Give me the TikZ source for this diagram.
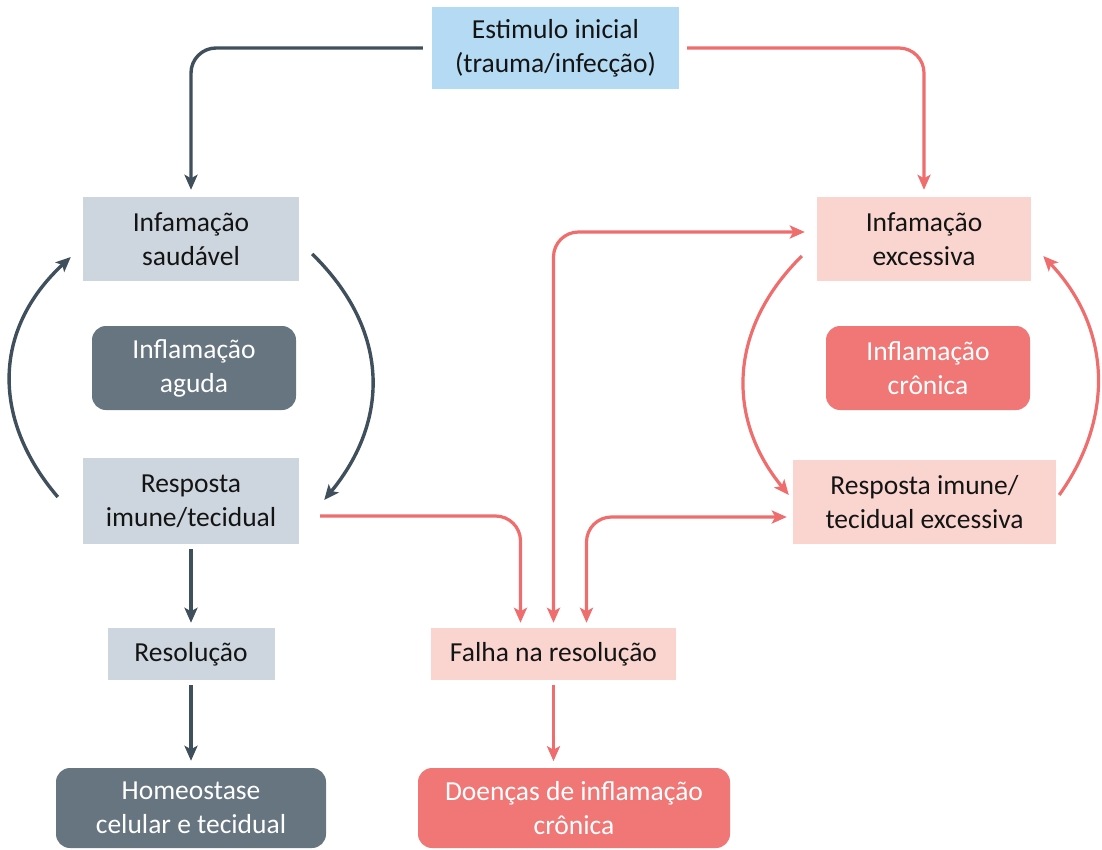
\documentclass[tikz,border=0pt]{standalone}
\usepackage{fontspec}
\setmainfont{Carlito}
\usetikzlibrary{arrows.meta}
\definecolor{dkline}{HTML}{3F4F5B}
\definecolor{rdline}{HTML}{EF6D6D}
\definecolor{blueF}{HTML}{B5DAF3}
\definecolor{greyF}{HTML}{CDD6DE}
\definecolor{pinkF}{HTML}{FAD5D0}
\definecolor{slateF}{HTML}{66757F}
\definecolor{coralF}{HTML}{F07775}
\definecolor{txt}{HTML}{141414}
\begin{document}
\begin{tikzpicture}[x=1pt,y=-1pt,
  box/.style={inner sep=0pt, align=center, font=\fontsize{27.5}{34}\selectfont, text=txt},
  bluebox/.style={box, fill=blueF},
  greybox/.style={box, fill=greyF},
  pinkbox/.style={box, fill=pinkF},
  slatebox/.style={box, fill=slateF, rounded corners=14pt, text=white},
  coralbox/.style={box, fill=coralF, rounded corners=14pt, text=white},
  dkarrow/.style={draw=dkline, line width=3.4pt, -{Stealth[length=15pt,width=13pt,inset=3.5pt]}, rounded corners=25pt},
  rdarrow/.style={draw=rdline, line width=3.2pt, -{Stealth[length=15pt,width=13pt,inset=3.5pt]}, rounded corners=25pt},
  rdboth/.style={draw=rdline, line width=3.2pt, {Stealth[length=15pt,width=13pt,inset=3.5pt]}-{Stealth[length=15pt,width=13pt,inset=3.5pt]}, rounded corners=25pt}
]
\useasboundingbox (0,0) rectangle (1102,850);

% nodes
\node[bluebox, minimum width=247pt, minimum height=82pt] (est) at (555.5,48) {Estimulo inicial\\(trauma/infecção)};
\node[greybox, minimum width=216pt, minimum height=84pt] (sau) at (191,239) {Infamação\\saudável};
\node[slatebox, minimum width=204pt, minimum height=84pt] (agu) at (194,368) {Inflamação\\aguda};
\node[greybox, minimum width=216pt, minimum height=86pt] (rsp) at (191,501) {Resposta\\imune/tecidual};
\node[greybox, minimum width=167pt, minimum height=52pt] (res) at (191,654) {Resolução};
\node[slatebox, minimum width=270pt, minimum height=80pt] (hom) at (191,808) {Homeostase\\celular e tecidual};
\node[pinkbox, minimum width=214pt, minimum height=84pt] (exc) at (924,239) {Infamação\\excessiva};
\node[coralbox, minimum width=204pt, minimum height=84pt] (cro) at (928,368) {Inflamação\\crônica};
\node[pinkbox, minimum width=263pt, minimum height=84pt] (rex) at (924.5,502) {Resposta imune/\\tecidual excessiva};
\node[pinkbox, minimum width=245pt, minimum height=52pt] (fal) at (553.5,654) {Falha na resolução};
\node[coralbox, minimum width=312pt, minimum height=80pt] (doe) at (574,808) {Doenças de inflamação\\crônica};

% connectors (dark)
\draw[dkarrow] ([shift={(-9,0)}]est.west) -| ([shift={(0,-7)}]sau.north);
\draw[dkarrow] ([shift={(13,15)}]sau.east) .. controls (390,330) and (390,420) .. ([shift={(25,-1)}]rsp.east);
\draw[dkarrow] ([shift={(-25,-4)}]rsp.west) .. controls (-8,420) and (-8,330) .. ([shift={(-12,18)}]sau.west);
\draw[dkarrow] ([shift={(0,5)}]rsp.south) -- ([shift={(0,-5)}]res.north);
\draw[dkarrow] ([shift={(0,5)}]res.south) -- ([shift={(0,-7)}]hom.north);

% connectors (red)
\draw[rdarrow] ([shift={(8,0)}]est.east) -| ([shift={(0,-7)}]exc.north);
\draw[rdarrow] ([shift={(21,15)}]rsp.east) -| ([shift={(-33,-5)}]fal.north);
\draw[rdboth] ([shift={(0,-5)}]fal.north) |- ([shift={(-12,-7)}]exc.west);
\draw[rdboth] ([shift={(33,-5)}]fal.north) |- ([shift={(-6,15)}]rex.west);
\draw[rdarrow] ([shift={(-15,17)}]exc.west) .. controls (727,330) and (727,420) .. ([shift={(-4,-7)}]rex.west);
\draw[rdarrow] ([shift={(3,-7)}]rex.east) .. controls (1113,420) and (1113,330) .. ([shift={(12,17)}]exc.east);
\draw[rdarrow] ([shift={(0,5)}]fal.south) -- ([shift={(0,81)}]fal.south);
\end{tikzpicture}
\end{document}
